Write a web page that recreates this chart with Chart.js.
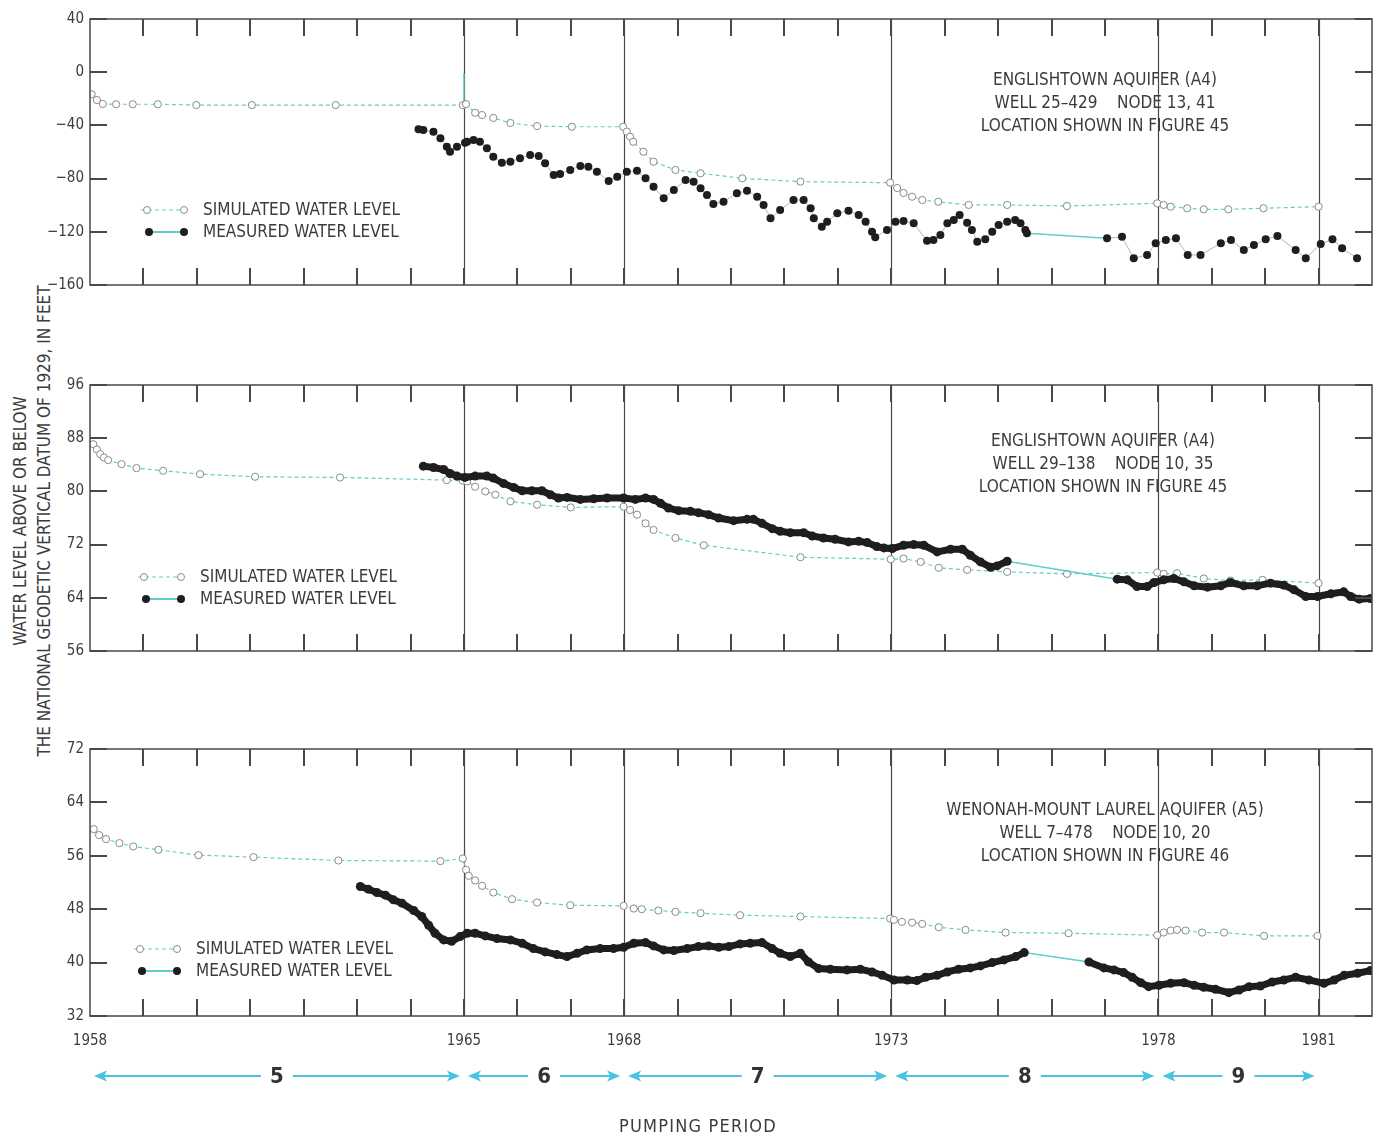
<!DOCTYPE html>
<html>
<head>
<meta charset="utf-8">
<title>Simulated and measured water levels, 1958-82</title>
<script src="https://cdn.jsdelivr.net/npm/chart.js@4.4.1/dist/chart.umd.min.js"></script>
<style>
  html, body { margin: 0; background: #fff; }
  #page {
    position: relative; width: 1379px; height: 1136px; overflow: hidden;
    font-family: 'Liberation Sans Narrow', 'DejaVu Sans Condensed', 'Arial Narrow', sans-serif;
    color: #3c3c3c;
  }
  .panel { position: absolute; left: 0; width: 1379px; }
  .note {
    position: absolute; width: 400px; text-align: center;
    font-size: 17px; line-height: 23px; white-space: nowrap;
  }
  .ytitle {
    position: absolute; left: -268px; top: 497px; width: 600px; height: 48px;
    transform: rotate(-90deg); text-align: center;
    font-size: 17px; line-height: 24px; white-space: nowrap;
  }
  .xtitle {
    position: absolute; left: 498px; top: 1114px; width: 400px; text-align: center;
    font-size: 18px; line-height: 24px; letter-spacing: 1.2px;
  }
</style>
</head>
<body>
<div id="page">
  <div class="ytitle">WATER LEVEL ABOVE OR BELOW<br>THE NATIONAL GEODETIC VERTICAL DATUM OF 1929, IN FEET</div>

  <div class="panel" style="top:0;height:300px"><canvas id="well25"></canvas></div>
  <div class="panel" style="top:366px;height:300px"><canvas id="well29"></canvas></div>
  <div class="panel" style="top:730px;height:406px"><canvas id="well7"></canvas></div>

  <div class="note" style="left:905px;top:68px">ENGLISHTOWN AQUIFER (A4)<br>WELL 25&ndash;429&nbsp;&nbsp;&nbsp; NODE 13, 41<br>LOCATION SHOWN IN FIGURE 45</div>
  <div class="note" style="left:903px;top:429px">ENGLISHTOWN AQUIFER (A4)<br>WELL 29&ndash;138&nbsp;&nbsp;&nbsp; NODE 10, 35<br>LOCATION SHOWN IN FIGURE 45</div>
  <div class="note" style="left:905px;top:798px">WENONAH-MOUNT LAUREL AQUIFER (A5)<br>WELL 7&ndash;478&nbsp;&nbsp;&nbsp; NODE 10, 20<br>LOCATION SHOWN IN FIGURE 46</div>

  <div class="xtitle">PUMPING PERIOD</div>
</div>

<script>
// Pumping periods and the years labelled on the time axis
const periodBounds = [1958, 1965, 1968, 1973, 1978, 1981];
const periodLabels = ['5', '6', '7', '8', '9'];
const labelYears = [1958, 1965, 1968, 1973, 1978, 1981];

// Well 25-429, Englishtown aquifer  [year, feet]
const sim25 = [
  [1958.03, -16.6], [1958.13, -20.9], [1958.24, -23.9], [1958.49, -24.1], [1958.80, -24.1],
  [1959.27, -24.1], [1959.99, -24.7], [1961.03, -24.7], [1962.60, -24.7], [1964.98, -24.8],
  [1965.04, -24.0], [1965.21, -30.5], [1965.34, -32.2], [1965.55, -34.4], [1965.87, -38.2],
  [1966.37, -40.5], [1967.02, -41.0], [1967.98, -41.0], [1968.05, -44.7], [1968.11, -48.5],
  [1968.17, -52.3], [1968.36, -59.8], [1968.55, -67.3], [1968.96, -73.5], [1969.43, -76.0],
  [1970.21, -79.8], [1971.30, -82.3], [1972.98, -83.1], [1973.11, -87.1], [1973.23, -90.8],
  [1973.39, -93.6], [1973.58, -96.1], [1973.88, -97.4], [1974.45, -99.8], [1975.17, -99.8],
  [1976.29, -100.6], [1977.98, -98.6], [1978.10, -99.8], [1978.23, -101.1], [1978.54, -102.3],
  [1978.85, -103.1], [1979.31, -103.1], [1979.97, -102.3], [1981.00, -101.1]
];
const sim25Jump = [[1965.0, -24.5], [1965.0, -1]];
const meas25 = [
  [1964.15, -42.9], [1964.24, -43.5], [1964.43, -44.7], [1964.56, -49.7], [1964.68, -56.0],
  [1964.74, -59.8], [1964.87, -56.0], [1965.02, -53.0], [1965.06, -52.3], [1965.18, -51.0],
  [1965.30, -52.3], [1965.43, -57.2], [1965.55, -63.5], [1965.71, -68.0], [1965.87, -67.3],
  [1966.05, -64.7], [1966.24, -62.3], [1966.40, -63.0], [1966.52, -68.5], [1966.68, -77.3],
  [1966.80, -76.5], [1966.99, -73.5], [1967.18, -70.5], [1967.33, -71.1], [1967.49, -74.8],
  [1967.71, -81.8], [1967.87, -78.6], [1968.05, -74.8], [1968.24, -74.1], [1968.40, -79.8],
  [1968.55, -86.1], [1968.74, -94.8], [1968.93, -88.6], [1969.15, -81.1], [1969.30, -82.3],
  [1969.43, -87.3], [1969.55, -92.3], [1969.67, -99.1], [1969.86, -97.4], [1970.11, -91.1],
  [1970.30, -89.1], [1970.49, -93.6], [1970.61, -99.8], [1970.74, -109.8], [1970.92, -103.6],
  [1971.17, -96.1], [1971.36, -96.1], [1971.49, -102.3], [1971.55, -109.8], [1971.70, -116.2],
  [1971.80, -112.4], [1971.99, -106.1], [1972.20, -104.1], [1972.39, -107.4], [1972.52, -112.4],
  [1972.64, -119.9], [1972.70, -124.1], [1972.92, -118.6], [1973.08, -112.4], [1973.23, -111.9],
  [1973.42, -113.6], [1973.67, -126.7], [1973.79, -126.2], [1973.92, -122.4], [1974.05, -113.6],
  [1974.17, -111.1], [1974.28, -107.4], [1974.42, -113.2], [1974.51, -118.6], [1974.61, -127.4],
  [1974.76, -125.6], [1974.89, -119.9], [1975.01, -114.9], [1975.17, -112.4], [1975.32, -111.1],
  [1975.42, -113.6], [1975.51, -118.6], [1975.54, -121.1], [1977.04, -124.9], [1977.32, -123.7],
  [1977.54, -139.9], [1977.79, -137.4], [1977.95, -128.6], [1978.14, -126.2], [1978.33, -124.9],
  [1978.55, -137.4], [1978.79, -137.4], [1979.17, -128.6], [1979.36, -126.2], [1979.60, -133.7],
  [1979.79, -129.9], [1980.01, -125.6], [1980.23, -123.2], [1980.57, -133.7], [1980.76, -139.9],
  [1981.04, -129.2], [1981.26, -125.6], [1981.44, -132.4], [1981.72, -139.9]
];

// Well 29-138, Englishtown aquifer
const sim29 = [
  [1958.06, 87.1], [1958.13, 86.3], [1958.19, 85.6], [1958.26, 85.1], [1958.34, 84.7],
  [1958.59, 84.1], [1958.87, 83.5], [1959.37, 83.1], [1960.06, 82.6], [1961.09, 82.2],
  [1962.68, 82.1], [1964.68, 81.7], [1964.98, 81.6], [1965.06, 81.5], [1965.21, 80.7],
  [1965.40, 80.0], [1965.59, 79.5], [1965.87, 78.5], [1966.37, 78.0], [1967.00, 77.6],
  [1967.99, 77.7], [1968.11, 77.2], [1968.24, 76.5], [1968.40, 75.2], [1968.55, 74.2],
  [1968.96, 73.0], [1969.49, 71.9], [1971.30, 70.1], [1972.99, 69.8], [1973.23, 69.9],
  [1973.55, 69.4], [1973.89, 68.5], [1974.42, 68.2], [1975.17, 67.9], [1976.29, 67.6],
  [1977.98, 67.8], [1978.10, 67.6], [1978.35, 67.7], [1978.85, 66.9], [1979.35, 66.6],
  [1979.95, 66.7], [1981.00, 66.2]
];
const meas29 = [
  [1964.24, 83.8], [1964.43, 83.6], [1964.62, 83.3], [1964.74, 82.7], [1964.87, 82.3],
  [1965.02, 82.1], [1965.21, 82.3], [1965.43, 82.3], [1965.55, 82.0], [1965.74, 81.2],
  [1965.93, 80.6], [1966.09, 80.1], [1966.27, 80.1], [1966.46, 80.1], [1966.62, 79.5],
  [1966.77, 79.0], [1966.93, 79.1], [1967.18, 78.8], [1967.43, 78.9], [1967.68, 79.0],
  [1967.99, 79.0], [1968.21, 78.8], [1968.40, 79.0], [1968.55, 78.8], [1968.68, 78.2],
  [1968.83, 77.5], [1969.02, 77.1], [1969.24, 77.0], [1969.39, 76.8], [1969.58, 76.5],
  [1969.77, 76.0], [1970.05, 75.6], [1970.30, 75.8], [1970.42, 75.8], [1970.58, 75.2],
  [1970.77, 74.4], [1970.92, 74.0], [1971.11, 73.8], [1971.36, 73.8], [1971.52, 73.3],
  [1971.73, 73.0], [1971.95, 72.8], [1972.20, 72.4], [1972.39, 72.5], [1972.55, 72.3],
  [1972.73, 71.7], [1972.86, 71.5], [1973.02, 71.4], [1973.23, 71.9], [1973.42, 72.0],
  [1973.61, 71.9], [1973.86, 70.9], [1974.11, 71.3], [1974.33, 71.3], [1974.48, 70.4],
  [1974.67, 69.4], [1974.86, 68.6], [1974.98, 68.8], [1975.17, 69.5], [1977.23, 66.8],
  [1977.42, 66.7], [1977.60, 65.7], [1977.79, 65.7], [1977.92, 66.3], [1978.10, 66.7],
  [1978.29, 66.9], [1978.48, 66.4], [1978.67, 65.8], [1978.92, 65.6], [1979.17, 65.8],
  [1979.35, 66.3], [1979.60, 65.8], [1979.85, 65.8], [1980.10, 66.2], [1980.35, 65.9],
  [1980.54, 65.2], [1980.76, 64.2], [1980.98, 64.2], [1981.23, 64.6], [1981.47, 64.9],
  [1981.60, 64.2], [1981.76, 63.8], [1981.97, 63.9]
];

// Well 7-478, Wenonah-Mount Laurel aquifer
const sim7 = [
  [1958.07, 60.0], [1958.17, 59.1], [1958.30, 58.5], [1958.55, 57.9], [1958.81, 57.4],
  [1959.28, 56.9], [1960.03, 56.1], [1961.06, 55.8], [1962.65, 55.3], [1964.56, 55.2],
  [1964.98, 55.6], [1965.04, 53.9], [1965.09, 53.0], [1965.21, 52.3], [1965.34, 51.5],
  [1965.55, 50.5], [1965.90, 49.5], [1966.37, 49.0], [1966.99, 48.6], [1967.99, 48.5],
  [1968.18, 48.1], [1968.33, 48.0], [1968.64, 47.8], [1968.96, 47.6], [1969.43, 47.4],
  [1970.17, 47.1], [1971.30, 46.9], [1972.98, 46.6], [1973.05, 46.4], [1973.20, 46.1],
  [1973.39, 46.0], [1973.58, 45.8], [1973.89, 45.3], [1974.39, 44.9], [1975.14, 44.5],
  [1976.32, 44.4], [1977.98, 44.1], [1978.10, 44.5], [1978.23, 44.8], [1978.35, 44.9],
  [1978.51, 44.8], [1978.82, 44.5], [1979.23, 44.5], [1979.98, 44.0], [1980.98, 44.0]
];
const meas7 = [
  [1963.06, 51.4], [1963.21, 51.0], [1963.37, 50.5], [1963.53, 50.1], [1963.68, 49.4],
  [1963.84, 48.9], [1964.06, 47.8], [1964.21, 46.9], [1964.34, 45.6], [1964.46, 44.4],
  [1964.62, 43.4], [1964.77, 43.2], [1964.93, 43.9], [1965.06, 44.4], [1965.21, 44.4],
  [1965.40, 44.0], [1965.62, 43.6], [1965.87, 43.4], [1966.09, 42.9], [1966.30, 42.1],
  [1966.52, 41.6], [1966.74, 41.2], [1966.93, 40.9], [1967.12, 41.4], [1967.30, 41.9],
  [1967.55, 42.1], [1967.80, 42.1], [1967.99, 42.3], [1968.18, 42.9], [1968.40, 43.0],
  [1968.55, 42.5], [1968.74, 41.9], [1968.93, 41.8], [1969.18, 42.1], [1969.39, 42.4],
  [1969.58, 42.5], [1969.77, 42.3], [1969.96, 42.4], [1970.17, 42.8], [1970.36, 42.9],
  [1970.58, 43.0], [1970.77, 42.1], [1970.92, 41.4], [1971.11, 40.9], [1971.30, 41.4],
  [1971.45, 40.1], [1971.64, 39.1], [1971.86, 39.0], [1972.17, 38.9], [1972.42, 39.0],
  [1972.64, 38.6], [1972.83, 38.1], [1973.05, 37.4], [1973.30, 37.4], [1973.48, 37.3],
  [1973.64, 37.8], [1973.86, 38.1], [1974.05, 38.6], [1974.26, 39.0], [1974.48, 39.2],
  [1974.67, 39.5], [1974.89, 40.0], [1975.11, 40.4], [1975.33, 40.9], [1975.49, 41.5],
  [1976.70, 40.1], [1976.98, 39.2], [1977.17, 38.9], [1977.35, 38.5], [1977.51, 37.8],
  [1977.67, 37.0], [1977.82, 36.4], [1978.01, 36.6], [1978.23, 36.9], [1978.48, 37.0],
  [1978.67, 36.6], [1978.85, 36.3], [1979.07, 36.0], [1979.32, 35.5], [1979.51, 35.9],
  [1979.70, 36.4], [1979.91, 36.5], [1980.13, 37.1], [1980.35, 37.4], [1980.57, 37.8],
  [1980.82, 37.4], [1981.10, 36.9], [1981.29, 37.4], [1981.48, 38.1], [1981.73, 38.4],
  [1981.97, 38.8]
];

const FONT = "'Liberation Sans Narrow', 'DejaVu Sans Condensed', 'Arial Narrow', sans-serif";
const INK = '#3c3c3c';
const FRAME = '#484848';
const CYAN = '#5fcfcc';
const ARROW = '#48c3e2';
const DOT = '#1e1e1e';

Chart.defaults.font.family = FONT;
Chart.defaults.color = INK;

const toXY = pairs => pairs.map(([x, y]) => ({ x, y }));
const minus = v => (v < 0 ? '\u2212' + (-v) : String(v));

// period boundaries under the data; frame, inward ticks and legend over it
const framePlugin = {
  id: 'frame',
  beforeDatasetsDraw(chart) {
    const { ctx, chartArea: a, scales: { x } } = chart;
    ctx.save();
    ctx.strokeStyle = FRAME;
    ctx.lineWidth = 1.2;
    periodBounds.slice(1).forEach(yr => {
      const px = Math.round(x.getPixelForValue(yr)) + 0.5;
      ctx.beginPath();
      ctx.moveTo(px, a.top);
      ctx.lineTo(px, a.bottom);
      ctx.stroke();
    });
    ctx.restore();
  },
  afterDatasetsDraw(chart, args, opts) {
    const { ctx, chartArea: a, scales: { x, y } } = chart;
    const tick = 17;
    ctx.save();
    ctx.setLineDash([]);
    ctx.strokeStyle = FRAME;
    ctx.lineWidth = 2;
    for (let yr = 1959; yr < 1982; yr++) {
      const px = Math.round(x.getPixelForValue(yr));
      ctx.beginPath();
      ctx.moveTo(px, a.top); ctx.lineTo(px, a.top + tick);
      ctx.moveTo(px, a.bottom); ctx.lineTo(px, a.bottom - tick);
      ctx.stroke();
    }
    y.ticks.forEach(t => {
      const py = Math.round(y.getPixelForValue(t.value));
      ctx.beginPath();
      ctx.moveTo(a.left, py); ctx.lineTo(a.left + tick, py);
      ctx.moveTo(a.right, py); ctx.lineTo(a.right - tick, py);
      ctx.stroke();
    });
    ctx.lineWidth = 1.5;
    ctx.strokeRect(a.left, a.top, a.right - a.left, a.bottom - a.top);

    if (opts.legend) {
      const lx = a.left + opts.legend.dx;
      const ly = a.top + opts.legend.dy;
      // simulated: dashed line with open circles
      ctx.strokeStyle = CYAN;
      ctx.lineWidth = 1.2;
      ctx.setLineDash([4, 3]);
      ctx.beginPath(); ctx.moveTo(lx - 6, ly); ctx.lineTo(lx + 40, ly); ctx.stroke();
      ctx.setLineDash([]);
      ctx.strokeStyle = '#8a8a8a';
      ctx.fillStyle = '#fff';
      ctx.lineWidth = 1;
      [lx, lx + 37].forEach(cx => {
        ctx.beginPath(); ctx.arc(cx, ly, 3.5, 0, Math.PI * 2); ctx.fill(); ctx.stroke();
      });
      // measured: solid line with filled dots
      const my = ly + 22;
      ctx.strokeStyle = CYAN;
      ctx.lineWidth = 2;
      ctx.beginPath(); ctx.moveTo(lx + 2, my); ctx.lineTo(lx + 37, my); ctx.stroke();
      ctx.fillStyle = DOT;
      [lx + 2, lx + 37].forEach(cx => {
        ctx.beginPath(); ctx.arc(cx, my, 4, 0, Math.PI * 2); ctx.fill();
      });
      ctx.fillStyle = INK;
      ctx.font = `17px ${FONT}`;
      ctx.textBaseline = 'middle';
      ctx.fillText('SIMULATED WATER LEVEL', lx + 56, ly + 1);
      ctx.fillText('MEASURED WATER LEVEL', lx + 56, my + 1);
    }
    ctx.restore();
  }
};

// pumping-period arrows between the year labels and the axis title
const periodArrowsPlugin = {
  id: 'periodArrows',
  afterDraw(chart, args, opts) {
    if (!opts.below) return;
    const { ctx, chartArea: a, scales: { x } } = chart;
    const yy = a.bottom + opts.below;
    const head = (tip, dir) => {
      ctx.beginPath();
      ctx.moveTo(tip, yy);
      ctx.lineTo(tip - dir * 13, yy - 5.5);
      ctx.lineTo(tip - dir * 10, yy);
      ctx.lineTo(tip - dir * 13, yy + 5.5);
      ctx.closePath();
      ctx.fill();
    };
    ctx.save();
    ctx.lineWidth = 2;
    ctx.font = `bold 22px ${FONT}`;
    ctx.textAlign = 'center';
    ctx.textBaseline = 'middle';
    periodLabels.forEach((label, i) => {
      const x0 = x.getPixelForValue(periodBounds[i]) + 4;
      const x1 = x.getPixelForValue(periodBounds[i + 1]) - 4;
      const mid = x.getPixelForValue((periodBounds[i] + periodBounds[i + 1]) / 2);
      ctx.strokeStyle = ARROW;
      ctx.fillStyle = ARROW;
      ctx.beginPath();
      ctx.moveTo(x0 + 8, yy); ctx.lineTo(mid - 16, yy);
      ctx.moveTo(mid + 16, yy); ctx.lineTo(x1 - 8, yy);
      ctx.stroke();
      head(x0, -1);
      head(x1, 1);
      ctx.fillStyle = '#333';
      ctx.fillText(label, mid, yy + 1);
    });
    ctx.restore();
  }
};

function measuredSegment(closeColor, closeWidth) {
  const gap = c => c.p1.parsed.x - c.p0.parsed.x > 0.5;
  return {
    borderColor: c => (gap(c) ? CYAN : closeColor),
    borderWidth: c => (gap(c) ? 1.5 : closeWidth),
  };
}

function makePanel(id, cfg) {
  const datasets = [
    {
      label: 'Measured water level',
      data: toXY(cfg.measured),
      pointRadius: cfg.dotRadius,
      pointBackgroundColor: DOT,
      pointBorderWidth: 0,
      segment: measuredSegment(cfg.closeColor, cfg.closeWidth),
    },
    {
      label: 'Simulated water level',
      data: toXY(cfg.simulated),
      borderColor: CYAN,
      borderWidth: 1.2,
      borderDash: [4, 3],
      pointRadius: 3.6,
      pointBackgroundColor: '#fff',
      pointBorderColor: '#8a8a8a',
      pointBorderWidth: 1,
    },
  ];
  if (cfg.jump) {
    datasets.push({ data: toXY(cfg.jump), borderColor: CYAN, borderWidth: 1.5, pointRadius: 0 });
  }

  const xScale = {
    type: 'linear', min: 1958, max: 1982,
    display: !!cfg.timeAxis,
    grid: { display: false, drawTicks: false },
    border: { display: false },
  };
  if (cfg.timeAxis) {
    Object.assign(xScale, {
      afterBuildTicks: s => { s.ticks = labelYears.map(v => ({ value: v })); },
      afterFit: s => { s.height = 120; },
      ticks: { autoSkip: false, maxRotation: 0, padding: 16, font: { size: 15 }, callback: v => String(v) },
    });
  }

  return new Chart(document.getElementById(id), {
    type: 'line',
    data: { datasets },
    plugins: [framePlugin, periodArrowsPlugin],
    options: {
      responsive: true,
      maintainAspectRatio: false,
      animation: false,
      events: [],
      layout: { padding: { top: 19, right: 7, bottom: cfg.timeAxis ? 0 : 15, left: 0 } },
      plugins: {
        legend: { display: false },
        tooltip: { enabled: false },
        frame: { legend: cfg.legend },
        periodArrows: { below: cfg.arrowsBelow },
      },
      scales: {
        x: xScale,
        y: {
          min: cfg.yMin, max: cfg.yMax,
          afterFit: s => { s.width = 90; },
          ticks: { stepSize: cfg.step, padding: 6, font: { size: 15 }, callback: minus },
          grid: { display: false, drawTicks: false },
          border: { display: false },
        },
      },
    },
  });
}

makePanel('well25', {
  simulated: sim25, measured: meas25, jump: sim25Jump,
  yMin: -160, yMax: 40, step: 40,
  closeColor: '#b5b5b5', closeWidth: 1, dotRadius: 4,
  legend: { dx: 57, dy: 191 },
});

makePanel('well29', {
  simulated: sim29, measured: meas29,
  yMin: 56, yMax: 96, step: 8,
  closeColor: DOT, closeWidth: 7, dotRadius: 4.5,
  legend: { dx: 54, dy: 192 },
});

makePanel('well7', {
  simulated: sim7, measured: meas7,
  yMin: 32, yMax: 72, step: 8,
  closeColor: DOT, closeWidth: 7, dotRadius: 4.5,
  legend: { dx: 50, dy: 200 },
  timeAxis: true,
  arrowsBelow: 60,
});
</script>
</body>
</html>
